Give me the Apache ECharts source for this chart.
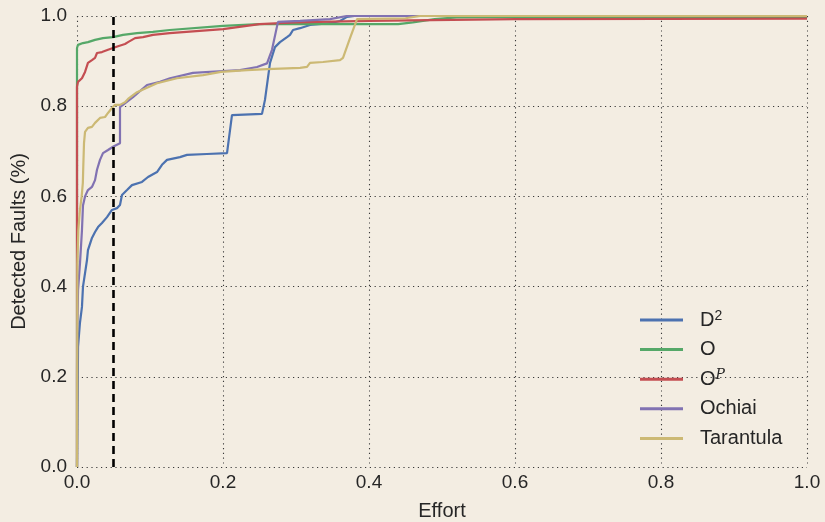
<!DOCTYPE html>
<html>
<head>
<meta charset="utf-8">
<script src="https://cdn.jsdelivr.net/npm/echarts@6/dist/echarts.min.js"></script>
<style>
  html, body { margin: 0; padding: 0; background: #f3ede2; }
  #chart { width: 825px; height: 522px; }
</style>
</head>
<body>
<div id="chart"></div>
<script>
// Cumulative share of detected faults against inspection effort, per ranking formula.
const seriesNames = ['D2', 'O', 'OP', 'Ochiai', 'Tarantula'];
const seriesColors = ['#4c72b0', '#55a868', '#c44e52', '#8172b2', '#ccb974'];

const d2Effort = [0, 0.0007, 0.0014, 0.004, 0.0068, 0.0082, 0.011, 0.0137, 0.015, 0.0205, 0.0247, 0.0288, 0.0342, 0.0411, 0.0479, 0.0548, 0.0589, 0.0616, 0.0685, 0.0753, 0.089, 0.0973, 0.1096, 0.1164, 0.1233, 0.141, 0.1507, 0.178, 0.2055, 0.2123, 0.2534, 0.2575, 0.2644, 0.2712, 0.2781, 0.2877, 0.2918, 0.2959, 0.3055, 0.3192, 0.3466, 0.3603, 0.3699, 0.38, 1.0];
const d2Detected = [0, 0.12, 0.266, 0.319, 0.355, 0.40, 0.43, 0.459, 0.481, 0.508, 0.521, 0.532, 0.541, 0.554, 0.570, 0.574, 0.581, 0.603, 0.614, 0.625, 0.632, 0.643, 0.654, 0.670, 0.681, 0.687, 0.692, 0.694, 0.696, 0.780, 0.783, 0.814, 0.896, 0.931, 0.942, 0.953, 0.958, 0.969, 0.973, 0.980, 0.984, 0.989, 0.998, 1.0, 1.0];

const oEffort = [0, 0, 0.0014, 0.0082, 0.015, 0.0247, 0.0356, 0.0493, 0.063, 0.0822, 0.104, 0.127, 0.2, 0.25, 0.44, 0.46, 0.49, 0.52, 0.6, 1.0];
const oDetected = [0, 0.929, 0.936, 0.940, 0.942, 0.947, 0.951, 0.953, 0.958, 0.962, 0.965, 0.969, 0.978, 0.982, 0.982, 0.986, 0.993, 0.997, 0.998, 0.998];

const opEffort = [0, 0, 0.0014, 0.0068, 0.011, 0.015, 0.0205, 0.0247, 0.0274, 0.0342, 0.0425, 0.0493, 0.0562, 0.0658, 0.0699, 0.0795, 0.0904, 0.104, 0.127, 0.2, 0.25, 0.3, 0.4, 0.6, 1.0];
const opDetected = [0, 0.843, 0.854, 0.862, 0.876, 0.896, 0.902, 0.907, 0.918, 0.920, 0.925, 0.929, 0.933, 0.938, 0.942, 0.951, 0.953, 0.958, 0.962, 0.971, 0.982, 0.986, 0.989, 0.993, 0.994];

const ochiaiEffort = [0, 0, 0.0003, 0.0014, 0.0041, 0.0068, 0.0082, 0.011, 0.015, 0.0205, 0.0247, 0.0274, 0.0315, 0.0356, 0.0425, 0.0493, 0.0589, 0.0589, 0.0767, 0.0959, 0.1137, 0.1274, 0.1589, 0.2, 0.2233, 0.2466, 0.2603, 0.2671, 0.2753, 0.3055, 0.3466, 0.3699, 1.0];
const ochiaiDetected = [0, 0.2, 0.304, 0.392, 0.452, 0.525, 0.58, 0.60, 0.614, 0.621, 0.636, 0.659, 0.681, 0.696, 0.703, 0.710, 0.718, 0.798, 0.820, 0.847, 0.854, 0.862, 0.874, 0.878, 0.880, 0.887, 0.895, 0.925, 0.987, 0.989, 0.993, 1.0, 1.0];

const tarantulaEffort = [0, 0.0005, 0.0018, 0.004, 0.0064, 0.008, 0.0086, 0.0096, 0.011, 0.015, 0.0205, 0.0247, 0.0315, 0.0384, 0.0425, 0.0479, 0.0521, 0.0589, 0.0658, 0.0699, 0.0822, 0.1096, 0.137, 0.1726, 0.1973, 0.2329, 0.2603, 0.3055, 0.3151, 0.3192, 0.337, 0.3603, 0.3644, 0.374, 0.3836, 0.45, 0.47, 1.0];
const tarantulaDetected = [0, 0.45, 0.525, 0.57, 0.6, 0.63, 0.666, 0.718, 0.743, 0.752, 0.754, 0.763, 0.774, 0.776, 0.785, 0.796, 0.803, 0.803, 0.809, 0.816, 0.831, 0.851, 0.862, 0.869, 0.876, 0.880, 0.882, 0.885, 0.887, 0.896, 0.898, 0.902, 0.907, 0.951, 0.993, 0.995, 1.0, 1.0];

// Effort budget marker
const budgetEffort = 0.05;

const xTicks = [0, 0.2, 0.4, 0.6, 0.8, 1.0];
const yTicks = [0, 0.2, 0.4, 0.6, 0.8, 1.0];

const effortSets = [d2Effort, oEffort, opEffort, ochiaiEffort, tarantulaEffort];
const detectedSets = [d2Detected, oDetected, opDetected, ochiaiDetected, tarantulaDetected];

const legendLabels = {
  'D2': 'D{sup|2}',
  'O': 'O',
  'OP': 'O{supi|P}',
  'Ochiai': 'Ochiai',
  'Tarantula': 'Tarantula'
};

const font = '"Liberation Sans", Arial, sans-serif';
const textColor = '#262626';
const gridLine = { show: true, lineStyle: { color: '#3a3a3a', width: 1.1, type: [1.2, 3.6] } };

const lineSeries = seriesNames.map((name, i) => ({
  name: name,
  type: 'line',
  symbol: 'none',
  animation: false,
  color: seriesColors[i],
  lineStyle: { width: 2.2, color: seriesColors[i] },
  data: effortSets[i].map((x, k) => [x, detectedSets[i][k]])
}));

lineSeries.push({
  name: 'budget',
  type: 'line',
  symbol: 'none',
  animation: false,
  silent: true,
  lineStyle: { width: 2.6, color: '#000000', type: [8, 5] },
  data: [[budgetEffort, 0], [budgetEffort, 1]],
  z: 5
});

const chart = echarts.init(document.getElementById('chart'), null, { renderer: 'canvas' });
chart.setOption({
  backgroundColor: '#f3ede2',
  animation: false,
  grid: { left: 77, right: 18, top: 16, bottom: 55, containLabel: false, outerBoundsMode: 'none' },
  xAxis: {
    type: 'value',
    min: xTicks[0],
    max: xTicks[xTicks.length - 1],
    interval: 0.2,
    name: 'Effort',
    nameLocation: 'middle',
    nameGap: 34,
    nameTextStyle: { fontFamily: font, fontSize: 20, color: textColor },
    axisLine: { show: false },
    axisTick: { show: false },
    axisLabel: { fontFamily: font, fontSize: 19, color: textColor, margin: 6, formatter: v => v.toFixed(1) },
    splitLine: gridLine
  },
  yAxis: {
    type: 'value',
    min: yTicks[0],
    max: yTicks[yTicks.length - 1],
    interval: 0.2,
    name: 'Detected Faults (%)',
    nameLocation: 'middle',
    nameGap: 42,
    nameTextStyle: { fontFamily: font, fontSize: 20, color: textColor },
    axisLine: { show: false },
    axisTick: { show: false },
    axisLabel: { fontFamily: font, fontSize: 19, color: textColor, margin: 10, formatter: v => v.toFixed(1) },
    splitLine: gridLine
  },
  legend: {
    data: seriesNames,
    orient: 'vertical',
    left: 635,
    top: 304,
    itemWidth: 43,
    itemHeight: 3,
    itemGap: 7.6,
    icon: 'rect',
    formatter: name => legendLabels[name],
    textStyle: {
      fontFamily: font,
      fontSize: 20,
      color: textColor,
      lineHeight: 22,
      padding: [0, 0, 0, 12],
      rich: {
        sup: { fontFamily: font, fontSize: 14, color: textColor, verticalAlign: 'top', lineHeight: 8 },
        supi: { fontFamily: '"DejaVu Serif", serif', fontStyle: 'italic', fontSize: 14, color: textColor, verticalAlign: 'top', lineHeight: 8 }
      }
    }
  },
  series: lineSeries
});
</script>
</body>
</html>
